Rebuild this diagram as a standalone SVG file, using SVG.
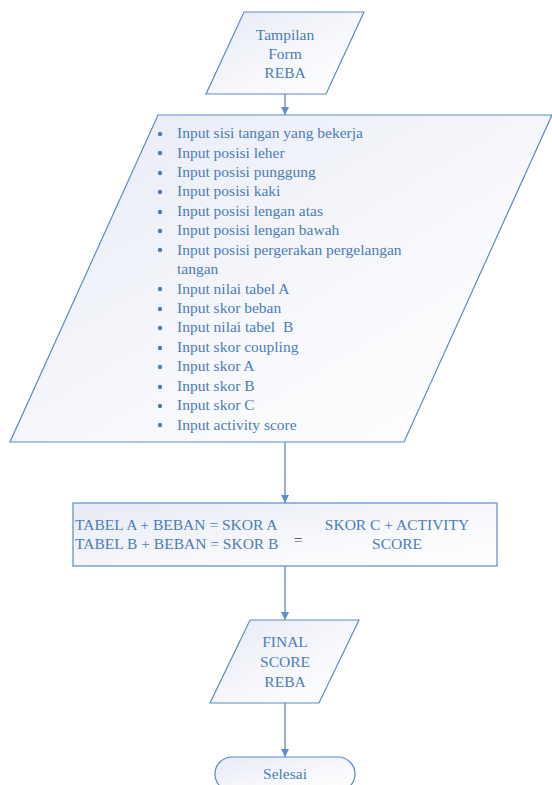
<svg xmlns="http://www.w3.org/2000/svg" width="552" height="785" viewBox="0 0 552 785">
<defs>
<linearGradient id="g" x1="0" y1="0" x2="1" y2="1">
<stop offset="0" stop-color="#e6eaf5"/>
<stop offset="0.6" stop-color="#f8f9fc"/>
<stop offset="1" stop-color="#ffffff"/>
</linearGradient>
<marker id="ah" viewBox="0 0 10 10" refX="10" refY="5" markerWidth="8" markerHeight="8" markerUnits="userSpaceOnUse" orient="auto">
<path d="M0,0 L10,5 L0,10 z" fill="#5b8fd0"/>
</marker>
<style>
.sh{fill:url(#g);stroke:#5a8cc8;stroke-width:1.2}
.cn{stroke:#6b9bd6;stroke-width:1.5;fill:none;marker-end:url(#ah)}
.b{fill:#4a7db8}
</style>
</defs>
<g id="connectors">
<line class="cn" x1="285" y1="94" x2="285" y2="115"/>
<line class="cn" x1="285" y1="442" x2="285" y2="503"/>
<line class="cn" x1="285" y1="566" x2="285" y2="620"/>
<line class="cn" x1="285" y1="703" x2="285" y2="757"/>
</g>
<g id="tampilan">
<polygon class="sh" points="244,12 364,12 326,94 206,94"/>
<g font-family="Liberation Serif" font-size="15.5" fill="#4a7db8" text-anchor="middle">
<text x="285" y="40">Tampilan</text>
<text x="285" y="59">Form</text>
<text x="285" y="78">REBA</text>
</g>
</g>
<g id="input">
<polygon class="sh" points="158,115 552,115 404,442 10,442"/>
<g class="b">
<circle cx="160" cy="134" r="2.2"/><circle cx="160" cy="153" r="2.2"/><circle cx="160" cy="173" r="2.2"/><circle cx="160" cy="192" r="2.2"/>
<circle cx="160" cy="212" r="2.2"/><circle cx="160" cy="231" r="2.2"/><circle cx="160" cy="250" r="2.2"/><circle cx="160" cy="289" r="2.2"/>
<circle cx="160" cy="309" r="2.2"/><circle cx="160" cy="328" r="2.2"/><circle cx="160" cy="348" r="2.2"/><circle cx="160" cy="367" r="2.2"/>
<circle cx="160" cy="387" r="2.2"/><circle cx="160" cy="406" r="2.2"/><circle cx="160" cy="425" r="2.2"/>
</g>
<g font-family="Liberation Serif" font-size="15.5" fill="#4a7db8">
<text x="177" y="138">Input sisi tangan yang bekerja</text>
<text x="177" y="158">Input posisi leher</text>
<text x="177" y="177">Input posisi punggung</text>
<text x="177" y="196">Input posisi kaki</text>
<text x="177" y="216">Input posisi lengan atas</text>
<text x="177" y="235">Input posisi lengan bawah</text>
<text x="177" y="255">Input posisi pergerakan pergelangan</text>
<text x="177" y="274">tangan</text>
<text x="177" y="294">Input nilai tabel A</text>
<text x="177" y="313">Input skor beban</text>
<text x="177" y="332" xml:space="preserve">Input nilai tabel  B</text>
<text x="177" y="352">Input skor coupling</text>
<text x="177" y="371">Input skor A</text>
<text x="177" y="391">Input skor B</text>
<text x="177" y="410">Input skor C</text>
<text x="177" y="430">Input activity score</text>
</g>
</g>
<g id="proses">
<rect class="sh" x="73" y="503" width="424" height="63"/>
<g font-family="Liberation Serif" font-size="15.5" fill="#4a7db8">
<text x="75" y="530">TABEL A + BEBAN = SKOR A</text>
<text x="75" y="549">TABEL B + BEBAN = SKOR B</text>
<text x="298" y="545" text-anchor="middle" fill="#404040">=</text>
<text x="397" y="530" text-anchor="middle">SKOR C + ACTIVITY</text>
<text x="397" y="549" text-anchor="middle">SCORE</text>
</g>
</g>
<g id="final">
<polygon class="sh" points="250,620 359,620 319,703 210,703"/>
<g font-family="Liberation Serif" font-size="15.5" fill="#4a7db8" text-anchor="middle">
<text x="285" y="647">FINAL</text>
<text x="285" y="667">SCORE</text>
<text x="285" y="687">REBA</text>
</g>
</g>
<g id="selesai">
<rect class="sh" x="215" y="757" width="140" height="34" rx="17" ry="17"/>
<text x="285" y="779" font-family="Liberation Serif" font-size="15.5" fill="#4a7db8" text-anchor="middle">Selesai</text>
</g>
</svg>
